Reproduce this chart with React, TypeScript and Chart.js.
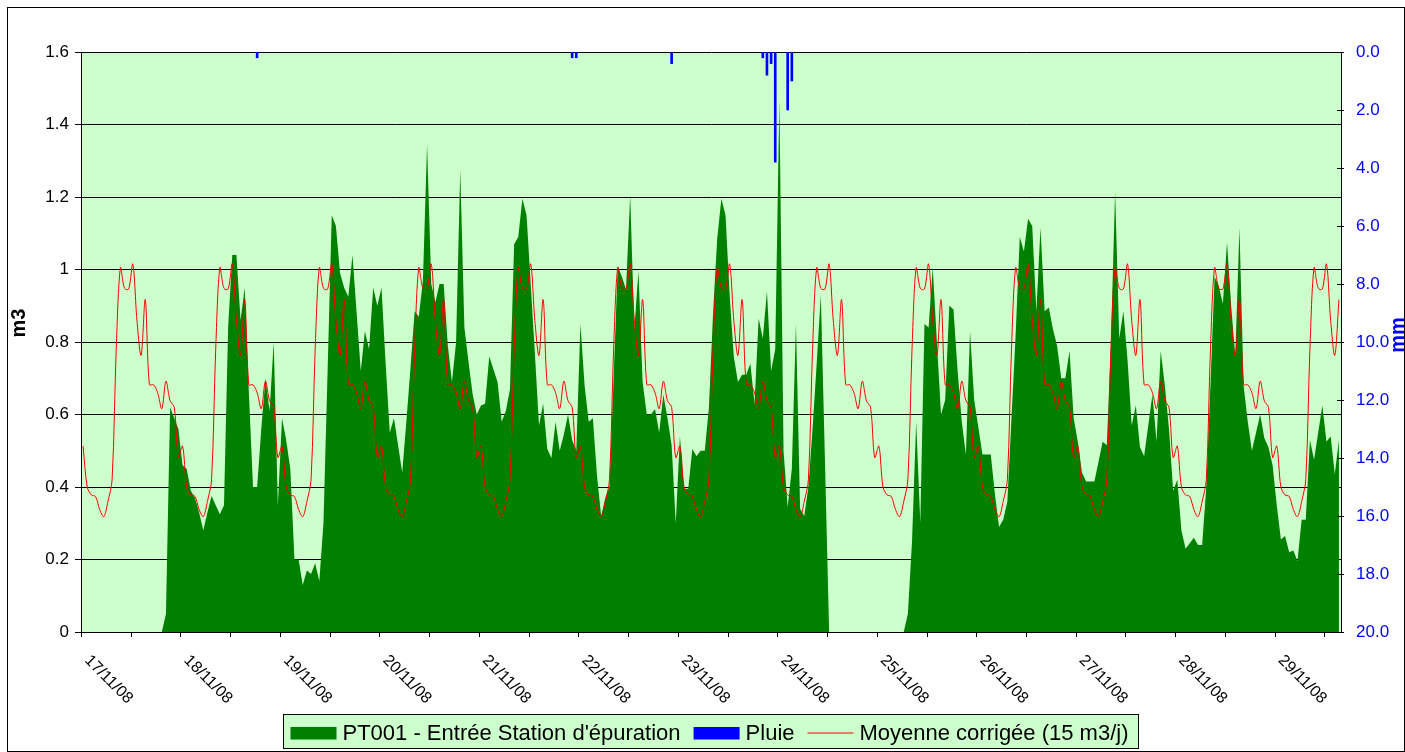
import React, { useEffect, useRef } from "react";
import { Chart, registerables } from "chart.js";

Chart.register(...registerables);

const FONT = "'Liberation Sans', Arial, sans-serif";

// Day labels (one per day, every 24 hourly categories)
const dayLabels = [
  "17/11/08", "18/11/08", "19/11/08", "20/11/08", "21/11/08", "22/11/08", "23/11/08",
  "24/11/08", "25/11/08", "26/11/08", "27/11/08", "28/11/08", "29/11/08",
];

// PT001 - Entrée Station d'épuration (m3, hourly, from 17/11/08 00h)
const debitPT001 = [
  // 17/11
  0, 0, 0, 0, 0, 0, 0, 0, 0, 0, 0, 0, 0, 0, 0, 0, 0, 0, 0, 0, 0.05, 0.62, 0.59, 0.56,
  // 18/11
  0.46, 0.45, 0.39, 0.37, 0.33, 0.28, 0.33, 0.375, 0.35, 0.325, 0.35, 0.84, 1.04, 1.04, 0.86, 0.95, 0.66, 0.40, 0.40, 0.56, 0.70, 0.61, 0.80, 0.35,
  // 19/11
  0.59, 0.53, 0.45, 0.20, 0.20, 0.13, 0.17, 0.16, 0.19, 0.14, 0.30, 0.72, 1.15, 1.12, 0.99, 0.95, 0.925, 1.04, 0.88, 0.72, 0.83, 0.78, 0.95, 0.90,
  // 20/11
  0.95, 0.74, 0.55, 0.59, 0.515, 0.44, 0.58, 0.73, 0.885, 0.87, 0.97, 1.345, 0.96, 0.91, 0.96, 0.96, 0.79, 0.69, 0.80, 1.275, 0.84, 0.745, 0.655, 0.60,
  // 21/11
  0.625, 0.63, 0.76, 0.725, 0.69, 0.58, 0.61, 0.67, 1.07, 1.09, 1.195, 1.15, 0.96, 0.77, 0.57, 0.63, 0.505, 0.48, 0.58, 0.50, 0.545, 0.60, 0.53, 0.50,
  // 22/11
  0.85, 0.68, 0.58, 0.59, 0.43, 0.32, 0.37, 0.40, 0.70, 1.01, 0.98, 0.945, 1.205, 0.835, 0.995, 0.69, 0.60, 0.60, 0.615, 0.55, 0.655, 0.59, 0.515, 0.30,
  // 23/11
  0.54, 0.395, 0.395, 0.505, 0.485, 0.50, 0.50, 0.62, 0.88, 1.085, 1.195, 1.15, 0.93, 0.76, 0.69, 0.71, 0.71, 0.74, 0.63, 0.865, 0.81, 0.94, 0.72, 0.78,
  // 24/11
  1.47, 0.50, 0.345, 0.45, 0.85, 0.34, 0.32, 0.40, 0.56, 0.74, 0.93, 0.47, 0, 0, 0, 0, 0, 0, 0, 0, 0, 0, 0, 0,
  // 25/11
  0, 0, 0, 0, 0, 0, 0, 0.05, 0.25, 0.58, 0.30, 0.85, 0.84, 1.005, 0.80, 0.60, 0.64, 0.90, 0.89, 0.72, 0.58, 0.49, 0.83, 0.64,
  // 26/11
  0.565, 0.49, 0.49, 0.49, 0.38, 0.29, 0.31, 0.36, 0.59, 0.82, 1.09, 1.05, 1.14, 1.12, 0.885, 1.115, 0.885, 0.895, 0.835, 0.79, 0.70, 0.70, 0.775, 0.59,
  // 27/11
  0.525, 0.44, 0.415, 0.415, 0.415, 0.47, 0.525, 0.515, 0.80, 1.215, 0.81, 0.885, 0.75, 0.57, 0.625, 0.51, 0.485, 0.57, 0.655, 0.525, 0.775, 0.68, 0.56, 0.39,
  // 28/11
  0.42, 0.28, 0.23, 0.245, 0.26, 0.24, 0.24, 0.40, 0.68, 0.98, 0.955, 0.905, 1.075, 0.90, 0.76, 1.115, 0.68, 0.58, 0.50, 0.55, 0.60, 0.535, 0.51, 0.46,
  // 29/11
  0.35, 0.255, 0.265, 0.22, 0.225, 0.195, 0.31, 0.31, 0.53, 0.475, 0.55, 0.625, 0.525, 0.54, 0.435, 0.53,
];

// Moyenne corrigée (15 m3/j): daily hourly profile (m3), hours 0..23
const moyenneProfil = [
  0.513, 0.40, 0.378, 0.374, 0.338, 0.318, 0.36, 0.42, 0.78, 1.005, 0.948, 0.946,
  1.015, 0.86, 0.763, 0.917, 0.682, 0.682, 0.66, 0.616, 0.692, 0.638, 0.62, 0.481,
];

// Pluie (mm): hour index since 17/11/08 00h and rainfall
const pluieHeure = [42, 118, 119, 142, 164, 165, 166, 167, 170, 171];
const pluieMm = [0.2, 0.2, 0.2, 0.4, 0.2, 0.8, 0.4, 3.8, 2.0, 1.0];

// x tick marks every 12 hours
const xTickHours = [0, 12, 24, 36, 48, 60, 72, 84, 96, 108, 120, 132, 144, 156, 168, 180, 192, 204, 216, 228, 240, 252, 264, 276, 288, 300];

const legendItems = [
  { label: "PT001 - Entrée Station d'épuration", kind: "box", color: "#008000" },
  { label: "Pluie", kind: "box", color: "#0000FF" },
  { label: "Moyenne corrigée (15 m3/j)", kind: "line", color: "#FF0000" },
];

const decorPlugin = {
  id: "decor",
  beforeDraw(chart: any) {
    const { ctx, chartArea: a } = chart;
    ctx.save();
    ctx.fillStyle = "#FFFFFF";
    ctx.fillRect(0, 0, chart.width, chart.height);
    ctx.fillStyle = "#CCFFCC";
    ctx.fillRect(a.left, a.top, a.right - a.left, a.bottom - a.top);
    ctx.restore();
  },
  afterDraw(chart: any) {
    const { ctx, chartArea: a, scales } = chart;
    const xs = scales.x;
    const y2 = scales.y2;
    ctx.save();

    // x tick marks (every 12 h) below the axis
    ctx.strokeStyle = "#000";
    ctx.lineWidth = 1;
    xTickHours.forEach((h) => {
      const px = Math.round(xs.getPixelForValue(h)) + 0.5;
      ctx.beginPath();
      ctx.moveTo(px, a.bottom);
      ctx.lineTo(px, a.bottom + 5);
      ctx.stroke();
    });

    // right axis tick marks (crossing)
    y2.ticks.forEach((t: any) => {
      const py = Math.round(y2.getPixelForValue(t.value)) + 0.5;
      ctx.beginPath();
      ctx.moveTo(a.right - 4, py);
      ctx.lineTo(a.right + 3, py);
      ctx.stroke();
    });

    // x labels, rotated 45° clockwise, starting at the day tick
    ctx.fillStyle = "#000";
    ctx.font = `16px ${FONT}`;
    ctx.textAlign = "left";
    ctx.textBaseline = "middle";
    dayLabels.forEach((lab, d) => {
      const px = xs.getPixelForValue(d * 24);
      ctx.save();
      ctx.translate(px + 6, a.bottom + 26);
      ctx.rotate(Math.PI / 4);
      ctx.fillText(lab, 0, 0);
      ctx.restore();
    });

    // axis titles
    ctx.font = `bold 20px ${FONT}`;
    ctx.textAlign = "center";
    ctx.textBaseline = "middle";
    ctx.save();
    ctx.translate(11, 315);
    ctx.rotate(-Math.PI / 2);
    ctx.fillStyle = "#000";
    ctx.fillText("m3", 0, 0);
    ctx.restore();
    ctx.save();
    ctx.translate(1390, 327);
    ctx.rotate(-Math.PI / 2);
    ctx.fillStyle = "#0000FF";
    ctx.fillText("mm", 0, 0);
    ctx.restore();

    // legend
    ctx.font = `22px ${FONT}`;
    const sw = 46, gapT = 6, gapI = 13, padL = 7, padR = 10;
    let total = padL + padR;
    legendItems.forEach((it, k) => {
      total += sw + gapT + ctx.measureText(it.label).width + (k > 0 ? gapI : 0);
    });
    const cx = (a.left + a.right) / 2;
    const lx = Math.round(cx - total / 2) + 0.5;
    const ly = 706.5;
    const lh = 34;
    ctx.fillStyle = "#CCFFCC";
    ctx.fillRect(lx, ly, total, lh);
    ctx.strokeStyle = "#000";
    ctx.lineWidth = 1;
    ctx.strokeRect(lx, ly, total, lh);
    let cur = lx + padL;
    ctx.textAlign = "left";
    ctx.textBaseline = "alphabetic";
    legendItems.forEach((it, k) => {
      if (k > 0) cur += gapI;
      if (it.kind === "box") {
        ctx.fillStyle = it.color;
        ctx.fillRect(cur, ly + 12.5, sw, 12.5);
      } else {
        ctx.strokeStyle = it.color;
        ctx.lineWidth = 1;
        ctx.beginPath();
        ctx.moveTo(cur, ly + 18.5);
        ctx.lineTo(cur + sw, ly + 18.5);
        ctx.stroke();
      }
      cur += sw + gapT;
      ctx.fillStyle = "#000";
      ctx.fillText(it.label, cur, ly + 25);
      cur += ctx.measureText(it.label).width;
    });

    ctx.restore();
  },
};

export default function App() {
  const ref = useRef<HTMLCanvasElement>(null);

  useEffect(() => {
    const canvas = ref.current;
    if (!canvas) return;
    const greenData = debitPT001.map((v, i) => ({ x: i + 0.5, y: v }));
    const redData = debitPT001.map((_, i) => ({ x: i + 0.5, y: moyenneProfil[i % 24] }));
    const rainData = pluieHeure.map((h, k) => ({ x: h + 0.5, y: pluieMm[k] }));

    const chart = new Chart(canvas, {
      type: "line",
      data: {
        datasets: [
          {
            type: "line",
            label: "Moyenne corrigée (15 m3/j)",
            data: redData,
            borderColor: "#FF0000",
            borderWidth: 1,
            pointRadius: 0,
            tension: 0.33,
            fill: false,
            yAxisID: "y",
          } as any,
          {
            type: "bar",
            label: "Pluie",
            data: rainData,
            backgroundColor: "#0000FF",
            barThickness: 2,
            yAxisID: "y2",
          } as any,
          {
            type: "line",
            label: "PT001 - Entrée Station d'épuration",
            data: greenData,
            backgroundColor: "#008000",
            borderColor: "#008000",
            borderWidth: 0,
            pointRadius: 0,
            tension: 0,
            fill: "origin",
            yAxisID: "y",
          } as any,
        ],
      },
      options: {
        responsive: false,
        animation: false,
        devicePixelRatio: 1,
        layout: { padding: { left: 13, right: 13, top: 44, bottom: 0 } },
        plugins: {
          legend: { display: false },
          tooltip: { enabled: false },
        },
        scales: {
          x: {
            type: "linear",
            min: 0,
            max: 304,
            offset: false,
            afterFit: (s: any) => {
              s.height = 119;
            },
            afterBuildTicks: (s: any) => {
              s.ticks = xTickHours.map((h) => ({ value: h }));
            },
            ticks: { display: false },
            grid: { display: false, offset: false, drawOnChartArea: false, drawTicks: false },
            border: { display: true, color: "#000" },
          },
          y: {
            position: "left",
            min: 0,
            max: 1.6,
            afterFit: (s: any) => {
              s.width = 60;
            },
            ticks: {
              stepSize: 0.2,
              color: "#000",
              padding: 6,
              font: { family: FONT, size: 17 },
              callback: (v: any) => String(Math.round(Number(v) * 10) / 10),
            },
            grid: { color: "#000", tickLength: 6, drawTicks: true },
            border: { display: true, color: "#000" },
          },
          y2: {
            position: "right",
            reverse: true,
            min: 0,
            max: 20,
            afterFit: (s: any) => {
              s.width = 50;
            },
            ticks: {
              stepSize: 2,
              color: "#0000FF",
              padding: 15,
              font: { family: FONT, size: 17 },
              callback: (v: any) => Number(v).toFixed(1),
            },
            grid: { display: false, drawTicks: false, drawOnChartArea: false },
            border: { display: true, color: "#000" },
          },
        },
      } as any,
      plugins: [decorPlugin],
    });
    return () => chart.destroy();
  }, []);

  return (
    <div
      style={{
        position: "fixed",
        left: 7,
        top: 7,
        width: 1398,
        height: 745,
        border: "1px solid #000",
        boxSizing: "border-box",
        background: "#fff",
      }}
    >
      <canvas ref={ref} width={1396} height={743} style={{ display: "block", width: 1396, height: 743 }} />
    </div>
  );
}
